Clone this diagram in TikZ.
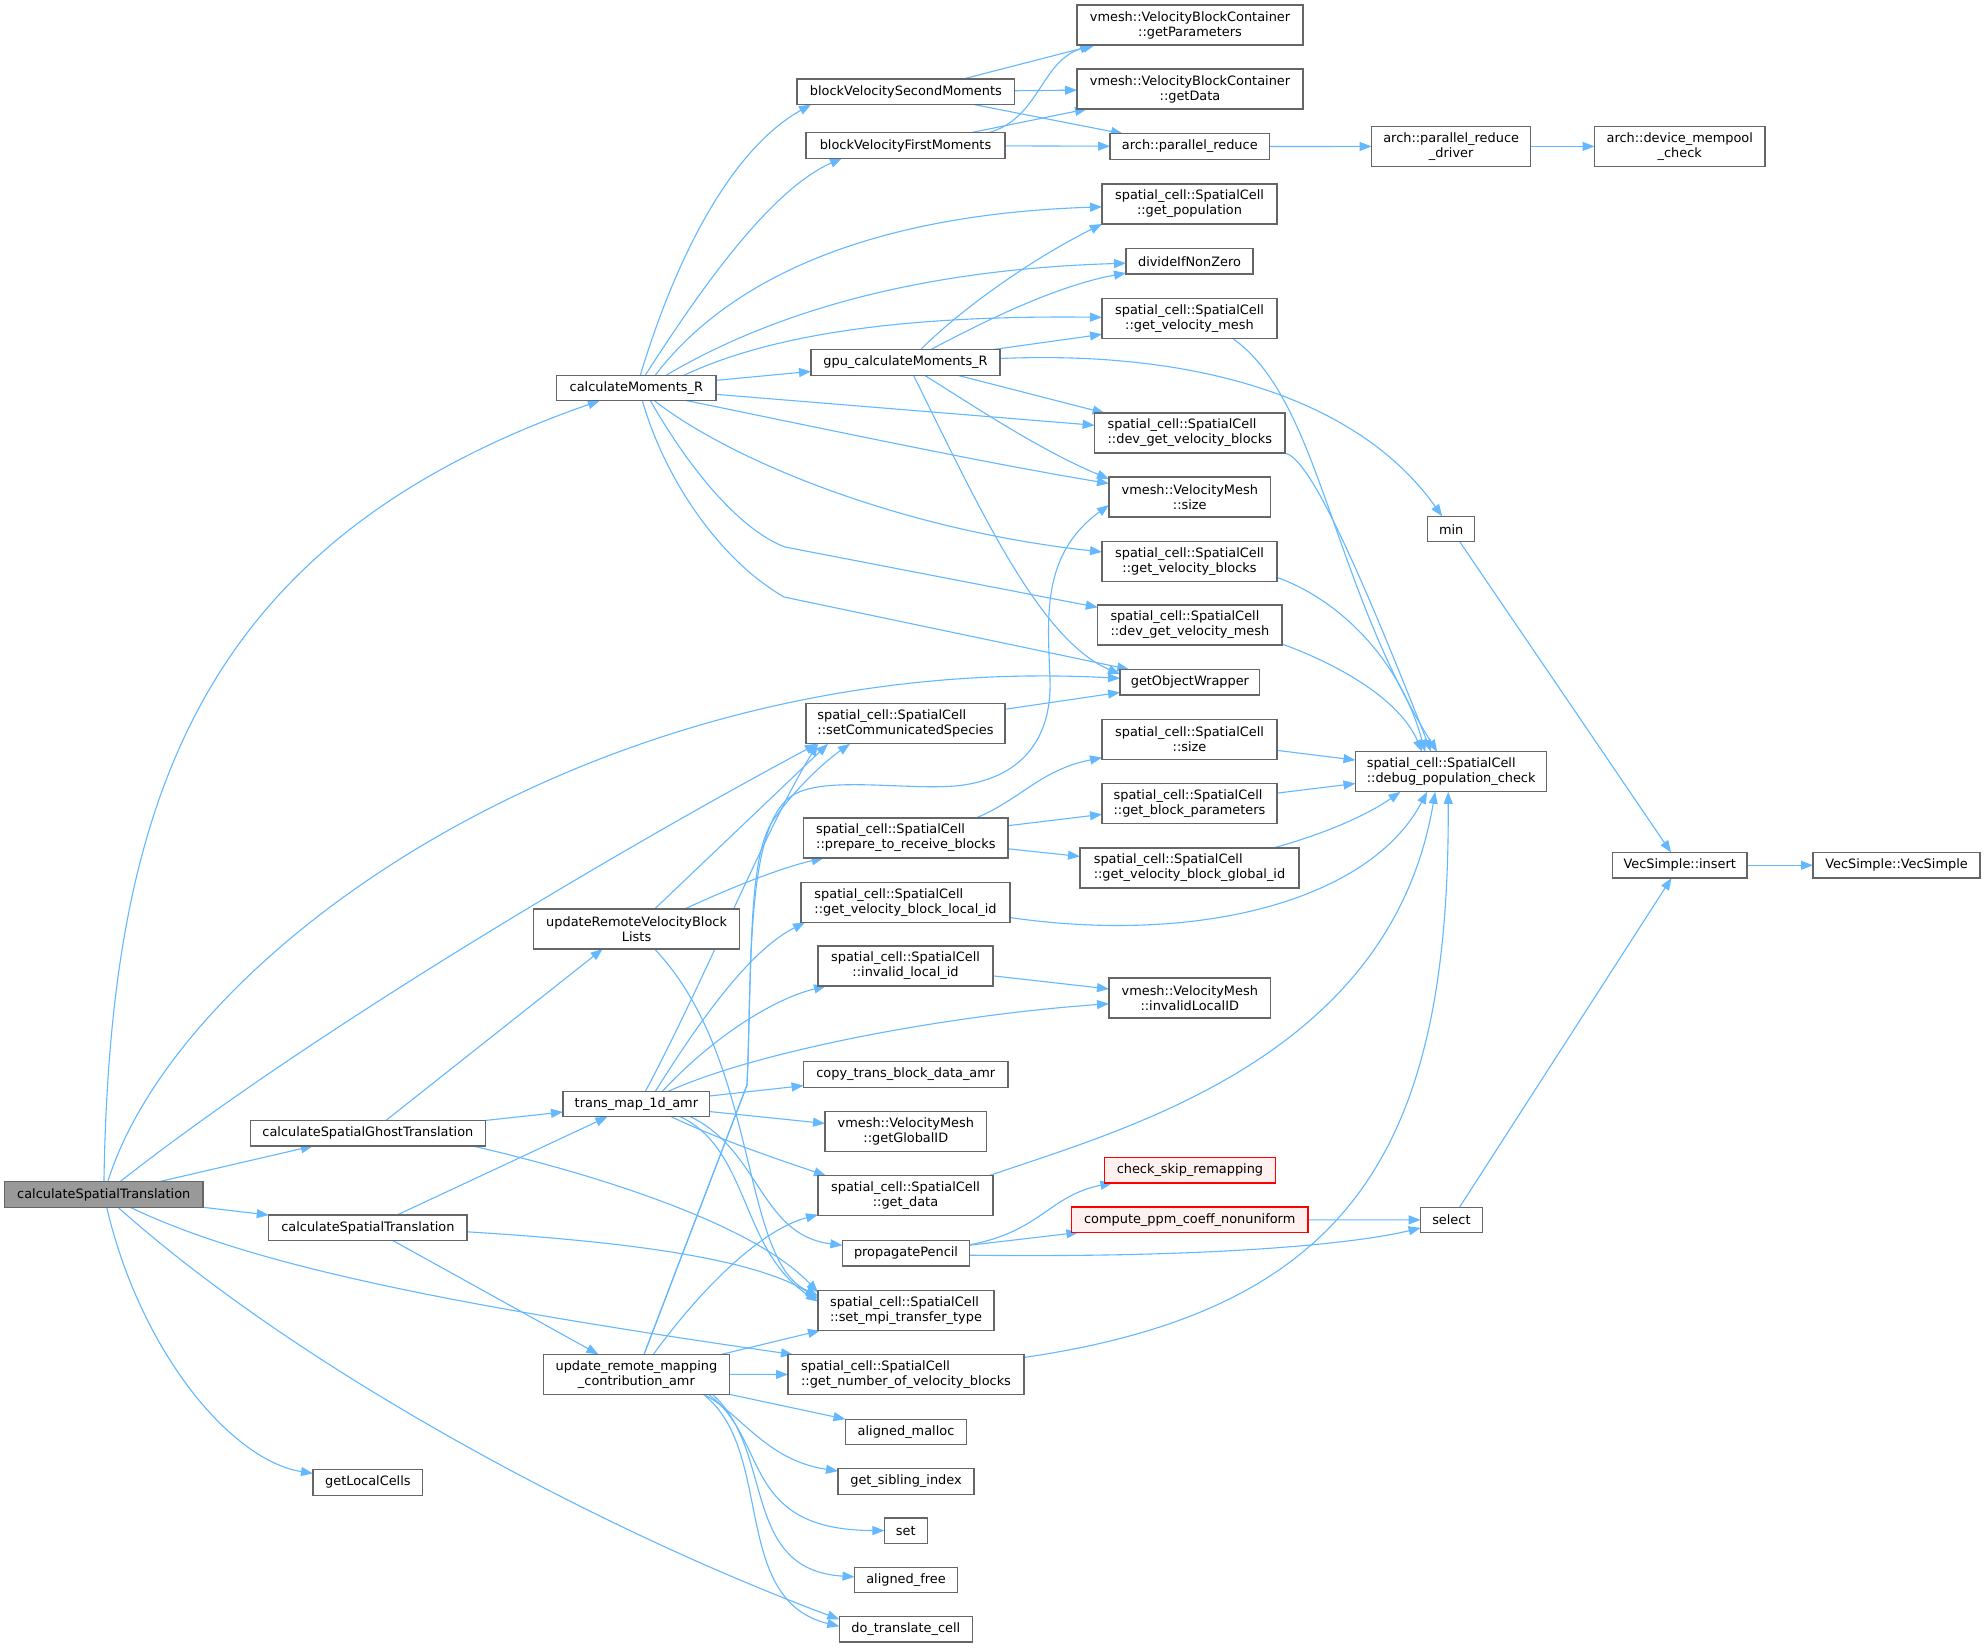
\documentclass[tikz,border=0pt]{standalone}
\usepackage{fontspec}
\setmainfont{DejaVu Sans}
\usetikzlibrary{arrows.meta}
\definecolor{edgec}{HTML}{63B8FF}
\definecolor{boxc}{HTML}{666666}
\definecolor{rootf}{HTML}{999999}
\definecolor{redf}{HTML}{FFF0F0}
\pgfdeclarelayer{back}
\pgfdeclarelayer{bg}
\pgfsetlayers{back,bg,main}
\begin{document}
\begin{tikzpicture}[x=1pt,y=-1pt,
  box/.style={draw=boxc,fill=white,line width=1.2pt,inner sep=0pt,outer sep=0pt,
    minimum height=25.5pt,font=\fontsize{12.9}{15}\selectfont,text=black,align=center},
  two/.style={minimum height=40pt},
  lft/.style={align=left},
  rootbox/.style={fill=rootf},
  redbox/.style={draw=red,fill=redf},
  e/.style={draw=edgec,line width=1.1pt,-{Triangle[length=12pt,width=9pt]}}]
\begin{pgfonlayer}{back}
\fill[white] (0,0) rectangle (1985,1647);
\end{pgfonlayer}
\useasboundingbox (0,0) rectangle (1985,1647);
% column 0-2
\node[box,rootbox,minimum width=198.5pt] (root) at (103.75,1194.5) {calculateSpatialTranslation};
\node[box,minimum width=159.3pt] (calcMom) at (636.35,387.85) {calculateMoments\_R};
\node[box,minimum width=234.9pt] (ghost) at (367.85,1133.25) {calculateSpatialGhostTranslation};
\node[box,minimum width=198.2pt] (cst2) at (367.9,1227.8) {calculateSpatialTranslation};
\node[box,minimum width=109.8pt] (getLocalCells) at (367.9,1482.35) {getLocalCells};
\node[box,two,minimum width=206.2pt] (updRVB) at (636.6,929) {updateRemoteVelocityBlock\\Lists};
\node[box,minimum width=146.8pt] (transmap) at (636.4,1104) {trans\_map\_1d\_amr};
\node[box,two,minimum width=186.2pt] (updrem) at (636.4,1374.35) {update\_remote\_mapping\\\_contribution\_amr};
% column 3
\node[box,minimum width=217.7pt] (bvsm) at (905.85,91.8) {blockVelocitySecondMoments};
\node[box,minimum width=199pt] (bvfm) at (905.5,145.5) {blockVelocityFirstMoments};
\node[box,minimum width=189pt] (gpu) at (905.5,362.5) {gpu\_calculateMoments\_R};
\node[box,two,lft,minimum width=199pt] (setcomm) at (905.5,723.8) {spatial\_cell::SpatialCell\\::setCommunicatedSpecies};
\node[box,two,lft,minimum width=204.4pt] (prep) at (905.8,838) {spatial\_cell::SpatialCell\\::prepare\_to\_receive\_blocks};
\node[box,two,lft,minimum width=209pt] (gvblid) at (905.5,902.5) {spatial\_cell::SpatialCell\\::get\_velocity\_block\_local\_id};
\node[box,two,minimum width=175pt] (invlid) at (905.5,966) {spatial\_cell::SpatialCell\\::invalid\_local\_id};
\node[box,minimum width=204.4pt] (copytr) at (905.8,1074.4) {copy\_trans\_block\_data\_amr};
\node[box,two,minimum width=161.6pt] (getGID) at (905.8,1131.75) {vmesh::VelocityMesh\\::getGlobalID};
\node[box,two,minimum width=175pt] (getdata) at (905.5,1195.7) {spatial\_cell::SpatialCell\\::get\_data};
\node[box,minimum width=127.2pt] (propP) at (906,1253.2) {propagatePencil};
\node[box,two,lft,minimum width=176pt] (setmpi) at (906,1310.6) {spatial\_cell::SpatialCell\\::set\_mpi\_transfer\_type};
\node[box,two,lft,minimum width=236pt] (gnvb) at (906,1374.5) {spatial\_cell::SpatialCell\\::get\_number\_of\_velocity\_blocks};
\node[box,minimum width=121pt] (amalloc) at (906,1431.9) {aligned\_malloc};
\node[box,minimum width=136pt] (gsib) at (906,1481.35) {get\_sibling\_index};
\node[box,minimum width=42.8pt] (set) at (905.8,1530.65) {set};
\node[box,minimum width=103pt] (afree) at (906,1579.85) {aligned\_free};
\node[box,minimum width=133pt] (dotr) at (905.8,1629.25) {do\_translate\_cell};
% column 4
\node[box,two,minimum width=226pt] (getParams) at (1190,25) {vmesh::VelocityBlockContainer\\::getParameters};
\node[box,two,minimum width=226pt] (getDataC) at (1190,89) {vmesh::VelocityBlockContainer\\::getData};
\node[box,minimum width=159.6pt] (preduce) at (1189.8,146.5) {arch::parallel\_reduce};
\node[box,two,minimum width=175pt] (getpop) at (1189.5,204) {spatial\_cell::SpatialCell\\::get\_population};
\node[box,minimum width=127pt] (divnz) at (1189.5,261.3) {divideIfNonZero};
\node[box,two,minimum width=175pt] (gvm) at (1189.5,318.3) {spatial\_cell::SpatialCell\\::get\_velocity\_mesh};
\node[box,two,lft,minimum width=190.4pt] (dgvb) at (1189.8,433) {spatial\_cell::SpatialCell\\::dev\_get\_velocity\_blocks};
\node[box,two,minimum width=161.5pt] (vmsize) at (1189.75,497) {vmesh::VelocityMesh\\::size};
\node[box,two,minimum width=175pt] (gvb) at (1189.5,561.4) {spatial\_cell::SpatialCell\\::get\_velocity\_blocks};
\node[box,two,lft,minimum width=184.2pt] (dgvm) at (1189.9,625) {spatial\_cell::SpatialCell\\::dev\_get\_velocity\_mesh};
\node[box,minimum width=139.8pt] (gow) at (1189.9,682.15) {getObjectWrapper};
\node[box,two,minimum width=175pt] (scsize) at (1189.5,739.6) {spatial\_cell::SpatialCell\\::size};
\node[box,two,lft,minimum width=175pt] (gbp) at (1189.5,803.8) {spatial\_cell::SpatialCell\\::get\_block\_parameters};
\node[box,two,lft,minimum width=219pt] (gvbgid) at (1189.5,868) {spatial\_cell::SpatialCell\\::get\_velocity\_block\_global\_id};
\node[box,two,minimum width=161.5pt] (invLID) at (1189.75,998) {vmesh::VelocityMesh\\::invalidLocalID};
\node[box,redbox,minimum width=170.9pt] (csr) at (1189.95,1170.25) {check\_skip\_remapping};
\node[box,redbox,minimum width=236.6pt] (cppm) at (1189.7,1219.7) {compute\_ppm\_coeff\_nonuniform};
% column 5-7
\node[box,two,minimum width=159.1pt] (prdrv) at (1451.15,146.4) {arch::parallel\_reduce\\\_driver};
\node[box,minimum width=47.1pt] (min) at (1451.15,529.1) {min};
\node[box,two,lft,minimum width=191.3pt] (dpc) at (1451.15,771.8) {spatial\_cell::SpatialCell\\::debug\_population\_check};
\node[box,minimum width=61.6pt] (select) at (1451.4,1219.9) {select};
\node[box,two,minimum width=170.5pt] (dmc) at (1679.75,146.4) {arch::device\_mempool\\\_check};
\node[box,minimum width=134.6pt] (insert) at (1679.7,865.25) {VecSimple::insert};
\node[box,minimum width=167pt] (vecs) at (1896.5,865.25) {VecSimple::VecSimple};

\begin{pgfonlayer}{bg}
% root
\draw[e] (root) .. controls (110,800) and (200,540) .. (calcMom);
\draw[e] (root) .. controls (180,950) and (600,650) .. (gow);
\draw[e] (root) .. controls (300,1040) and (600,860) .. ([xshift=11]setcomm.south west);
\draw[e] ([xshift=55]root.north) -- ([xshift=-55]ghost.south);
\draw[e] (root.south east) -- (cst2.north west);
\draw[e] (root) .. controls (250,1265) and (450,1305) .. ([xshift=5]gnvb.north west);
\draw[e] (root) .. controls (140,1350) and (230,1460) .. (getLocalCells);
\draw[e] (root) .. controls (300,1370) and (600,1530) .. ([yshift=10]dotr.west);
% calculateMoments_R
\draw[e] ([xshift=4]calcMom.north) .. controls (675,260) and (730,150) .. ([xshift=14]bvsm.south west);
\draw[e] ([xshift=9]calcMom.north) .. controls (700,290) and (770,190) .. ([xshift=36]bvfm.south west);
\draw[e] ([xshift=19]calcMom.north) .. controls (720,290) and (850,215) .. (getpop);
\draw[e] ([xshift=30]calcMom.north) .. controls (760,320) and (900,270) .. (divnz);
\draw[e] ([xshift=48]calcMom.north) .. controls (770,335) and (900,315) .. (gvm);
\draw[e] (calcMom) -- (gpu);
\draw[e] (calcMom) -- (dgvb);
\draw[e] ([xshift=50]calcMom.south) .. controls (830,430) and (980,462) .. (vmsize);
\draw[e] ([xshift=18]calcMom.south) .. controls (730,460) and (900,530) .. (gvb);
\draw[e] ([xshift=14]calcMom.south) .. controls (690,470) and (740,530) .. (785,547) -- (dgvm);
\draw[e] ([xshift=6]calcMom.south) .. controls (665,480) and (720,560) .. (784,597) -- (gow);
% gpu_calculateMoments_R
\draw[e] ([xshift=15]gpu.north) .. controls (960,310) and (1030,260) .. (getpop.south west);
\draw[e] ([xshift=25]gpu.north) .. controls (990,318) and (1060,285) .. ([yshift=1]divnz.south west);
\draw[e] ([xshift=86]gpu.north) -- ([yshift=4]gvm.south west);
\draw[e] (gpu) .. controls (1200,350) and (1360,400) .. (min);
\draw[e] ([xshift=52]gpu.south) -- ([xshift=10]dgvb.north west);
\draw[e] ([xshift=19]gpu.south) .. controls (980,410) and (1040,450) .. ([yshift=-2]vmsize.north west);
\draw[e] ([xshift=8]gpu.south) .. controls (980,510) and (1040,640) .. ([yshift=8]gow.west);
% block velocity moments
\draw[e] ([xshift=57]bvsm.north) -- ([xshift=18]getParams.south west);
\draw[e] (bvsm) -- (getDataC);
\draw[e] ([xshift=68]bvsm.south) -- ([xshift=13]preduce.north west);
\draw[e] ([xshift=83]bvfm.north) .. controls (1040,118) and (1040,62) .. ([xshift=15]getParams.south west);
\draw[e] ([xshift=65]bvfm.north) -- ([xshift=10]getDataC.south west);
\draw[e] (bvfm) -- (preduce);
\draw[e] (preduce) -- (prdrv);
\draw[e] (prdrv) -- (dmc);
% into debug_population_check
\draw[e] ([xshift=43]gvm.south) .. controls (1320,400) and (1330,580) .. ([xshift=-14]dpc.north);
\draw[e] (dgvb.south east) .. controls (1305,458) and (1340,520) .. ([xshift=-20]dpc.north);
\draw[e] ([yshift=-16]gvb.east) .. controls (1340,600) and (1400,660) .. ([xshift=-26]dpc.north);
\draw[e] ([yshift=-19]dgvm.east) .. controls (1340,665) and (1400,700) .. ([xshift=-29]dpc.north);
\draw[e] (scsize) -- (dpc);
\draw[e] (gbp) -- (dpc);
\draw[e] ([xshift=-26]gvbgid.north east) .. controls (1310,838) and (1360,820) .. ([xshift=45]dpc.south west);
\draw[e] (gvblid) .. controls (1200,945) and (1370,900) .. ([xshift=-24]dpc.south);
\draw[e] ([xshift=-4]getdata.north east) .. controls (1120,1130) and (1390,1060) .. ([xshift=-16]dpc.south);
\draw[e] (gnvb) .. controls (1350,1310) and (1450,1150) .. ([xshift=-3]dpc.south);
% VecSimple
\draw[e] (min) -- (insert);
\draw[e] (select) -- (insert);
\draw[e] (insert) -- (vecs);
% misc
\draw[e] (setcomm) -- (gow);
\draw[e] ([xshift=70]prep.north) .. controls (1020,800) and (1040,770) .. ([yshift=2]scsize.south west);
\draw[e] (prep) -- (gbp);
\draw[e] (prep) -- (gvbgid);
\draw[e] (invlid) -- (invLID);
% updateRemoteVelocityBlockLists
\draw[e] ([xshift=18]updRVB.north) -- ([xshift=22]setcomm.south west);
\draw[e] ([xshift=48]updRVB.north) .. controls (730,888) and (780,868) .. ([xshift=20]prep.south west);
\draw[e] ([xshift=18]updRVB.south) .. controls (760,1060) and (740,1260) .. ([yshift=-5]setmpi.north west);
% ghost translation
\draw[e] ([xshift=18]ghost.north) -- ([xshift=-34]updRVB.south);
\draw[e] (ghost) -- (transmap);
\draw[e] ([xshift=105]ghost.south) .. controls (620,1180) and (760,1230) .. ([yshift=-2]setmpi.north west);
% calculateSpatialTranslation (inner)
\draw[e] ([xshift=29]cst2.north) -- ([xshift=-29]transmap.south);
\draw[e] ([xshift=25]cst2.south) -- ([xshift=-38]updrem.north);
\draw[e] ([yshift=-4]cst2.east) .. controls (600,1240) and (750,1255) .. ([yshift=-8]setmpi.north west);
% trans_map_1d_amr
\draw[e] ([xshift=9]transmap.north) .. controls (700,990) and (770,820) .. ([xshift=12]setcomm.south west);
\draw[e] ([xshift=19]transmap.north) .. controls (700,1020) and (750,950) .. ([xshift=4]gvblid.south west);
\draw[e] ([xshift=26]transmap.north) .. controls (710,1040) and (770,1000) .. ([xshift=8]invlid.south west);
\draw[e] ([xshift=32]transmap.north) .. controls (760,1050) and (950,1015) .. (invLID);
\draw[e] (transmap) -- (copytr);
\draw[e] (transmap) -- (getGID);
\draw[e] ([xshift=35]transmap.south) .. controls (720,1140) and (780,1160) .. ([xshift=8]getdata.north west);
\draw[e] ([xshift=54]transmap.south) .. controls (760,1150) and (760,1235) .. (propP);
\draw[e] ([xshift=44]transmap.south) .. controls (750,1150) and (740,1250) .. ([yshift=-11]setmpi.north west);
% update_remote_mapping_contribution_amr
\draw[e] (updrem) -- (747,1085) .. controls (752,980) and (745,830) .. (790,797) .. controls (820,775) and (900,790) .. (955,786) .. controls (1020,780) and (1052,740) .. (1050,680) .. controls (1048,620) and (1040,555) .. ([yshift=-8]vmsize.west);
\draw[e] (updrem) -- (747,1085) .. controls (752,960) and (748,860) .. (772,822) .. controls (790,795) and (820,765) .. ([xshift=44]setcomm.south west);
\draw[e] ([xshift=17]updrem.north) .. controls (700,1290) and (760,1230) .. ([yshift=1]getdata.south west);
\draw[e] ([xshift=85]updrem.north) -- ([xshift=2]setmpi.south west);
\draw[e] (updrem) -- (gnvb);
\draw[e] (updrem.south east) -- (amalloc.north west);
\draw[e] ([xshift=67]updrem.south) .. controls (740,1412) and (765,1460) .. (gsib);
\draw[e] ([xshift=72]updrem.south) .. controls (770,1440) and (740,1530) .. (set);
\draw[e] ([xshift=76]updrem.south) .. controls (775,1450) and (740,1570) .. (afree);
\draw[e] ([xshift=67]updrem.south) .. controls (775,1450) and (730,1600) .. ([yshift=3]dotr.west);
% propagatePencil
\draw[e] ([yshift=8.5]propP.east) .. controls (1040,1232) and (1050,1195) .. ([xshift=8]csr.south west);
\draw[e] ([yshift=8]propP.east) -- ([xshift=7]cppm.south west);
\draw[e] ([yshift=-2]propP.east) .. controls (1200,1258) and (1350,1245) .. ([yshift=-8]select.west);
\draw[e] (cppm) -- (select);
\end{pgfonlayer}
\end{tikzpicture}
\end{document}
